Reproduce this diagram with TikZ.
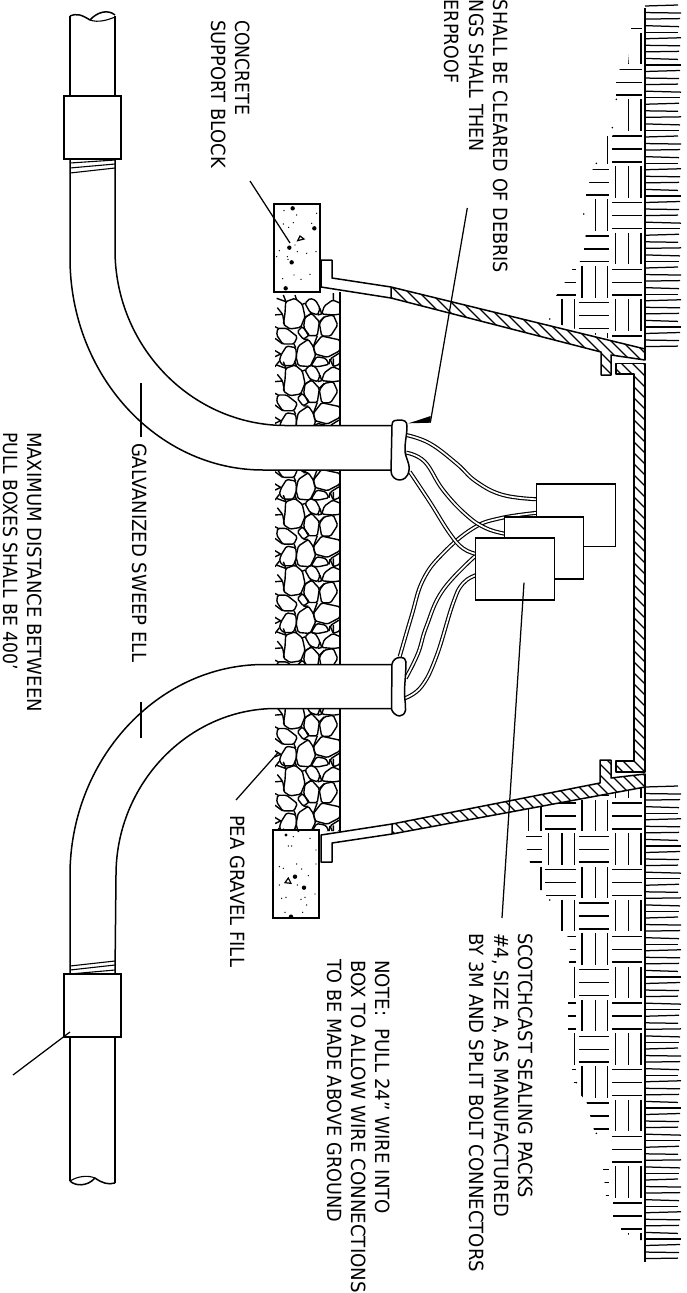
\documentclass[tikz,border=0pt]{standalone}
\usepackage{graphicx}
\usepackage{fontspec}
\setmainfont{DejaVu Sans}
\tikzset{
  obj/.style={draw=black,line width=1.5pt,line join=round},
  boxnode/.style={draw=black,fill=white,line width=1.5pt,inner sep=0pt,outer sep=0pt,anchor=north west},
  hatchln/.style={draw=black,line width=1.4pt},
  thin line/.style={draw=black,line width=1.1pt},
  leader/.style={draw=black,line width=1.25pt},
  cablewire/.style={draw=black,double=white,double distance=1.7pt,line width=1.15pt},
  earthln/.style={draw=black,line width=2pt},
  grassln/.style={draw=black,line width=1.25pt},
  weave/.style={draw=black,line width=1.4pt},
  stone/.style={draw=black,line width=1.4pt,line join=round,rounded corners=1.5pt},
  lbl/.style={rotate=-90,anchor=base west,inner sep=0pt,outer sep=0pt,text=black},
  lble/.style={rotate=-90,anchor=base east,inner sep=0pt,outer sep=0pt,text=black},
  zm/.style 2 args={x=0.33333pt,y=-0.33333pt,shift={(#1pt,-#2pt)}}
}
\newcommand{\fitlbl}[2]{\resizebox{#1pt}{14.5pt}{#2}}
\begin{document}
\begin{tikzpicture}[x=1pt,y=-1pt]
\useasboundingbox (0,0) rectangle (686,1293);

% ---------- gravel ----------
\begin{scope}
\clip (275,293) rectangle (340,425) (275,471) rectangle (340,664) (275,709) rectangle (340,831);
\foreach \k in {0,...,8}{
\begin{scope}[zm={270}{285},yshift={-66.7pt*\k}]
\draw[stone] (47,50)--(75,40)--(97,58)--(105,95)--(92,127)--(60,132)--(40,118)--(45,85)--cycle;
\draw[stone] (105,55)--(120,40)--(137,46)--(150,70)--(143,90)--(120,82)--cycle;
\draw[stone] (155,87)--(163,63)--(188,45)--(212,55)--(212,87)--(190,90)--cycle;
\draw[stone] (105,97)--(125,85)--(148,110)--(142,152)--(115,152)--(101,125)--cycle;
\draw[stone] (163,95)--(190,90)--(203,120)--(182,153)--(155,153)--(148,115)--cycle;
\draw[stone] (23,130)--(50,130)--(82,155)--(72,177)--(38,177)--(20,150)--cycle;
\draw[stone] (82,140)--(97,125)--(118,150)--(100,163)--cycle;
\draw[stone] (130,185)--(155,153)--(210,165)--(210,197)--(172,217)--(135,207)--cycle;
\draw[stone] (85,183)--(115,163)--(130,185)--(137,210)--(120,245)--(85,242)--(78,215)--cycle;
\draw[stone] (33,210)--(50,183)--(77,188)--(80,215)--(70,242)--(40,242)--(28,228)--cycle;
\draw[stone] (140,215)--(167,220)--(177,238)--(145,245)--(123,243)--cycle;
\draw[stone] (180,222)--(210,203)--(210,237)--(190,245)--cycle;
\draw[stone] (10,90)--(38,88) (22,68)--(38,88)--(43,118) (15,125)--(25,130) (15,160)--(38,177)
  (12,195)--(32,207) (15,215)--(32,207) (20,40)--(48,50) (40,30)--(48,50) (75,30)--(80,45)
  (105,97)--(125,85) (150,70)--(155,87) (148,110)--(163,95) (190,20)--(190,45) (142,152)--(130,185)
  (72,177)--(77,188) (100,163)--(115,163) (177,238)--(180,222) (97,58)--(105,55) (143,90)--(155,87)
  (15,245)--(28,228) (97,125)--(92,127) (120,82)--(125,85) (190,90)--(190,90);
\end{scope}}
\end{scope}
\draw[obj] (340,292)--(340,425) (340,470)--(340,665) (340,709)--(340,832);

% ---------- conduits ----------
\draw[obj] (70,16)--(70,96) (115,16)--(115,96);
\draw[obj] (70,16) .. controls (77,13) and (82,15) .. (90,20) .. controls (97,12) and (108,9) .. (115,15);
\draw[obj,line width=1.1pt] (90,20) .. controls (98,23) and (108,20) .. (115,17);
\node[boxnode,minimum width=57pt,minimum height=63pt] (couplingA) at (64,96) {};
\draw[thin line] (70,163)--(115,160) (70,168)--(115,164) (70,173)--(115,168);
\draw[obj] (70,159)--(70,258) .. controls (70,375) and (157,470) .. (263,470) -- (392,470);
\draw[obj] (115,159)--(115,250) .. controls (115,346) and (191,425) .. (285,425.5) -- (392,425.5);
\draw[obj] (392,664.5)--(263,664.5) .. controls (157,665) and (70,760) .. (70,875) -- (70,974);
\draw[obj] (392,708.5)--(275,708.5) .. controls (188,709) and (116,784) .. (116,875) -- (115,974);
\draw[thin line] (70,966)--(115,961) (70,970)--(115,965) (70,974)--(115,970);
\node[boxnode,minimum width=57pt,minimum height=63pt] (couplingB) at (64,974) {};
\draw[obj] (70,1037)--(70,1181) (115,1037)--(115,1183);
\draw[obj] (70,1181) .. controls (75,1186) and (87,1187) .. (95,1178) .. controls (102,1183) and (108,1185) .. (115,1183);
\draw[obj,line width=1.1pt] (70,1181) .. controls (78,1176) and (88,1175) .. (95,1178);

% ---------- concrete blocks ----------
\node[boxnode,minimum width=46pt,minimum height=88pt] (blockA) at (274,204) {};
\node[boxnode,minimum width=46pt,minimum height=88pt] (blockB) at (273,830) {};
\begin{scope}[zm={0}{0}]
\foreach \dx/\dy in {878/625,943/685,868/743,875/787,857/865}{\fill (\dx,\dy) circle[radius=2.2pt];}
\foreach \dx/\dy in {852/632,890/645,950/640,880/668,850/672,866/682,935/670,885/735,838/752,892/755,920/760,948/755,830/770,862/770,864/778,882/825,930/823,903/838,848/836}{\fill (\dx,\dy) circle[radius=.7pt];}
\draw[line width=1.2pt,fill=white] (893,722)--(900,708)--(912,717)--cycle;
\end{scope}
\begin{scope}[zm={0}{860}]
\foreach \dx/\dy in {885/50,912/83,873/170}{\fill (\dx,\dy) circle[radius=2.2pt];}
\foreach \dx/\dy in {838/20,850/25,890/12,905/27,948/12,925/47,838/75,892/75,945/102,845/115,858/112,903/118,915/112,920/135,855/157,908/157,858/-75,895/-88,880/-70,930/-65,948/-30,865/-42,875/-42}{\fill (\dx,\dy) circle[radius=.7pt];}
\fill (858,-75) circle[radius=1.6pt] (895,-88) circle[radius=1.6pt];
\draw[line width=1.2pt,fill=white] (855,68)--(865,54)--(873,70)--cycle;
\end{scope}

% ---------- earth weave ----------
\begin{scope}
\clip (645,26)--(631,26)--(631,30)--(628,66)--(620,68)--(616,82)--(616,132)--(612,136)--(607,136)--(607,166)--(593,168)--(586,195)--(586,232)--(584,250)--(579,264)--(573,268)--(565,282)--(556,296)--(555,297)--(555,323)--(645,349)--cycle;
\foreach \ci in {0,...,3}{\foreach \rj in {-4,...,6}{
 \pgfmathsetmacro\xl{644.7-33.33*(\ci+1)}
 \pgfmathsetmacro\yt{132.3+33.33*\rj}
 \pgfmathtruncatemacro\wpar{mod(\ci+\rj+100,2)}
 \ifnum\wpar=0
  \draw[weave] (\xl+.5,\yt+3.7)--(\xl+31,\yt+3.7) (\xl+.5,\yt+16.7)--(\xl+31,\yt+16.7) (\xl+.5,\yt+29.5)--(\xl+31,\yt+29.5);
 \else
  \draw[weave] (\xl+4,\yt+.5)--(\xl+4,\yt+32) (\xl+17.3,\yt+.5)--(\xl+17.3,\yt+32) (\xl+29.7,\yt+.5)--(\xl+29.7,\yt+32);
 \fi
}}
\end{scope}
\begin{scope}
\clip (645,787)--(528,809)--(526,833)--(526,845)--(528,855)--(531,866)--(540,866)--(540,890)--(546,890)--(546,899)--(560,899)--(560,934)--(567,934)--(570,950)--(569,965)--(574,965)--(574,1000)--(568,1000)--(568,1030)--(574,1032)--(574,1066)--(572,1068)--(575,1090)--(586,1100)--(594,1130)--(608,1133)--(608,1166)--(603,1168)--(606,1197)--(613,1200)--(613,1225)--(621,1228)--(621,1233)--(630,1235)--(630,1240)--(645,1240)--cycle;
\foreach \ci in {0,...,3}{\foreach \rj in {-3,...,11}{
 \pgfmathsetmacro\xl{644.7-33.33*(\ci+1)}
 \pgfmathsetmacro\yt{866+33.33*\rj}
 \pgfmathtruncatemacro\wpar{mod(\ci+\rj+100,2)}
 \ifnum\wpar=0
  \draw[weave] (\xl+.5,\yt+3.7)--(\xl+31,\yt+3.7) (\xl+.5,\yt+16.7)--(\xl+31,\yt+16.7) (\xl+.5,\yt+29.5)--(\xl+31,\yt+29.5);
 \else
  \draw[weave] (\xl+4,\yt+.5)--(\xl+4,\yt+32) (\xl+17.3,\yt+.5)--(\xl+17.3,\yt+32) (\xl+29.7,\yt+.5)--(\xl+29.7,\yt+32);
 \fi
}}
\end{scope}
\begin{scope}[zm={343}{0}]
\foreach \dx/\dy in {808/383,760/490,722/642,620/957,820/298}{\fill (\dx,\dy) circle[radius=.9pt];}
\end{scope}
\begin{scope}[zm={343}{860}]
\foreach \dx/\dy in {620/120,700/668,760/820}{\fill (\dx,\dy) circle[radius=.9pt];}
\end{scope}

% ---------- grass ----------
\foreach \i in {0,...,52}{
 \pgfmathsetmacro\gy{6+6.55*\i}
 \pgfmathsetmacro\gz{\gy+.5*mod(\i*3,5)-1}
 \pgfmathsetmacro\gl{678+mod(\i*7,4)}
 \draw[grassln] (645,\gy)--(\gl,\gz);
}
\foreach \i in {0,...,72}{
 \pgfmathsetmacro\gy{787+6.55*\i}
 \pgfmathsetmacro\gz{\gy+.5*mod(\i*3,5)-1}
 \pgfmathsetmacro\gl{678+mod(\i*7,4)}
 \draw[grassln] (645,\gy)--(\gl,\gz);
}
\draw[earthln] (645,8)--(645,360) (645,775)--(645,1262);

% ---------- shell ----------
\draw[obj] (391,287)--(332,278)--(332,260)--(321,260)--(321,287)--(391,298);
\draw[obj] (392,824)--(321,835)--(321,862)--(332,862)--(332,843)--(392,834);
\begin{scope}
\clip (391,287)--(645,349)--(645,360)--(611,355)--(611,375)--(601,375)--(601,352)--(391,298)--cycle;
\foreach \hc in {94,105,...,300}{\draw[hatchln] (\hc,0)--++(1500,1500);}
\end{scope}
\draw[obj] (391,287)--(645,349)--(645,360)--(611,355)--(611,375)--(601,375)--(601,352)--(391,298)--cycle;
\begin{scope}
\clip (616,363.5)--(645,363.5)--(645,772)--(616,772)--(616,761)--(634,761)--(634,374)--(616,374)--cycle;
\foreach \hc in {-160,-149,...,280}{\draw[hatchln] (\hc,0)--++(1500,1500);}
\end{scope}
\draw[obj] (616,363.5)--(645,363.5)--(645,772)--(616,772)--(616,761)--(634,761)--(634,374)--(616,374)--cycle;
\begin{scope}
\clip (392,824)--(600,783)--(600,760)--(611,760)--(611,778)--(645,774)--(645,787)--(392,834)--cycle;
\foreach \hc in {-450,-439,...,-120}{\draw[hatchln] (\hc,0)--++(1500,1500);}
\end{scope}
\draw[obj] (392,824)--(600,783)--(600,760)--(611,760)--(611,778)--(645,774)--(645,787)--(392,834)--cycle;

% ---------- wires ----------
\begin{scope}[zm={343}{430}]
\draw[cablewire] plot[smooth,tension=.7] coordinates {(170,680) (205,560) (240,450) (300,370) (390,295) (470,265) (585,248)};
\draw[cablewire] plot[smooth,tension=.7] coordinates {(188,745) (225,670) (250,590) (300,480) (400,375)};
\draw[cablewire] plot[smooth,tension=.7] coordinates {(190,15) (260,40) (340,100) (400,155) (480,195) (585,208)};
\draw[cablewire] plot[smooth,tension=.7] coordinates {(190,68) (245,95) (300,180) (370,255) (430,295) (490,312)};
\draw[cablewire] plot[smooth,tension=.7] coordinates {(185,805) (235,770) (280,680) (330,520) (360,460) (400,435)};
\draw[cablewire] plot[smooth,tension=.7] coordinates {(200,125) (260,215) (320,310) (360,355) (400,372)};
\end{scope}
\node[boxnode,minimum width=79.4pt,minimum height=62.7pt] (packA) at (536.3,484) {};
\node[boxnode,minimum width=79pt,minimum height=62pt] (packB) at (504.7,517) {};
\node[boxnode,minimum width=78.6pt,minimum height=62pt] (packC) at (475.7,538) {};

% ---------- seals ----------
\draw[obj] (392,425)--(392,470) (392,664)--(392,709);
\draw[obj,fill=white] (392,425) .. controls (392,420) and (396,420) .. (399,420) .. controls (404,420) and (407,421) .. (407,426) .. controls (407,435) and (405,440) .. (405,450) .. controls (405,458) and (410,462) .. (409,470) .. controls (408,478) and (403,480) .. (399.5,480) .. controls (395,480) and (391,476) .. (391,471) -- cycle;
\draw[obj,fill=white] (392,664) .. controls (393,660) and (396,657.5) .. (400,657.5) .. controls (404,657.5) and (406,659) .. (406,662) .. controls (406,670) and (405,680) .. (404.5,690) .. controls (404,697) and (406,704) .. (405.5,710) .. controls (405,714) and (402,716) .. (399.5,716) .. controls (396,716) and (392,712) .. (391.5,709) -- cycle;

% ---------- leaders ----------
\coordinate (lc1) at (250,181); \coordinate (lc2) at (290,243);
\coordinate (ls1) at (467.3,208); \coordinate (ls2) at (430.3,422.7); \coordinate (ls3) at (408.5,423.3); \coordinate (ls4) at (430.7,416);
\coordinate (lp1) at (524,582.7); \coordinate (lp2) at (502,918);
\coordinate (lg1) at (236,800); \coordinate (lg2) at (278,752.7);
\coordinate (lt1) at (141,383); \coordinate (lt2) at (141,437);
\coordinate (lt3) at (141,702); \coordinate (lt4) at (141,738);
\coordinate (lb1) at (13,1075); \coordinate (lb2) at (70,1032);
\draw[leader] (lc1)--(lc2);
\draw[leader] (ls1)--(ls2);
\fill (ls3)--(ls4)--(ls2)--cycle;
\draw[leader] (lp1)--(lp2);
\draw[leader] (lg1)--(lg2);
\draw[leader] (lt1)--(lt2);
\draw[leader] (lt3)--(lt4);
\draw[leader] (lb1)--(lb2);

% ---------- labels ----------
\node[lbl] (t1) at (235,20) {\fitlbl{95}{CONCRETE}};
\node[lbl] (t2) at (211,20) {\fitlbl{148}{SUPPORT BLOCK}};
\node[lble] (t3) at (493,273) {\fitlbl{273}{SHALL BE CLEARED OF DEBRIS}};
\node[lble] (t4) at (469,152) {\fitlbl{152}{NGS SHALL THEN}};
\node[lble] (t5) at (444,83) {\fitlbl{83}{ERPROOF}};
\node[lbl] (t6) at (27,432) {\fitlbl{280}{MAXIMUM DISTANCE BETWEEN}};
\node[lbl] (t7) at (3,432) {\fitlbl{238}{PULL BOXES SHALL BE 400'}};
\node[lbl] (t8) at (132,443) {\fitlbl{220}{GALVANIZED SWEEP ELL}};
\node[lbl] (t9) at (230,815) {\fitlbl{152}{PEA GRAVEL FILL}};
\node[lbl] (t10) at (518,933) {\fitlbl{265}{SCOTCHCAST SEALING PACKS}};
\node[lbl] (t11) at (494,933) {\fitlbl{284}{\#4, SIZE A, AS MANUFACTURED}};
\node[lbl] (t12) at (469,933) {\fitlbl{339}{BY 3M AND SPLIT BOLT CONNECTORS}};
\node[lbl] (t13) at (375,960) {\fitlbl{254}{NOTE:\ \ PULL 24" WIRE INTO}};
\node[lbl] (t14) at (351,960) {\fitlbl{333}{BOX TO ALLOW WIRE CONNECTIONS}};
\node[lbl] (t15) at (327,959) {\fitlbl{263}{TO BE MADE ABOVE GROUND}};
\end{tikzpicture}
\end{document}
